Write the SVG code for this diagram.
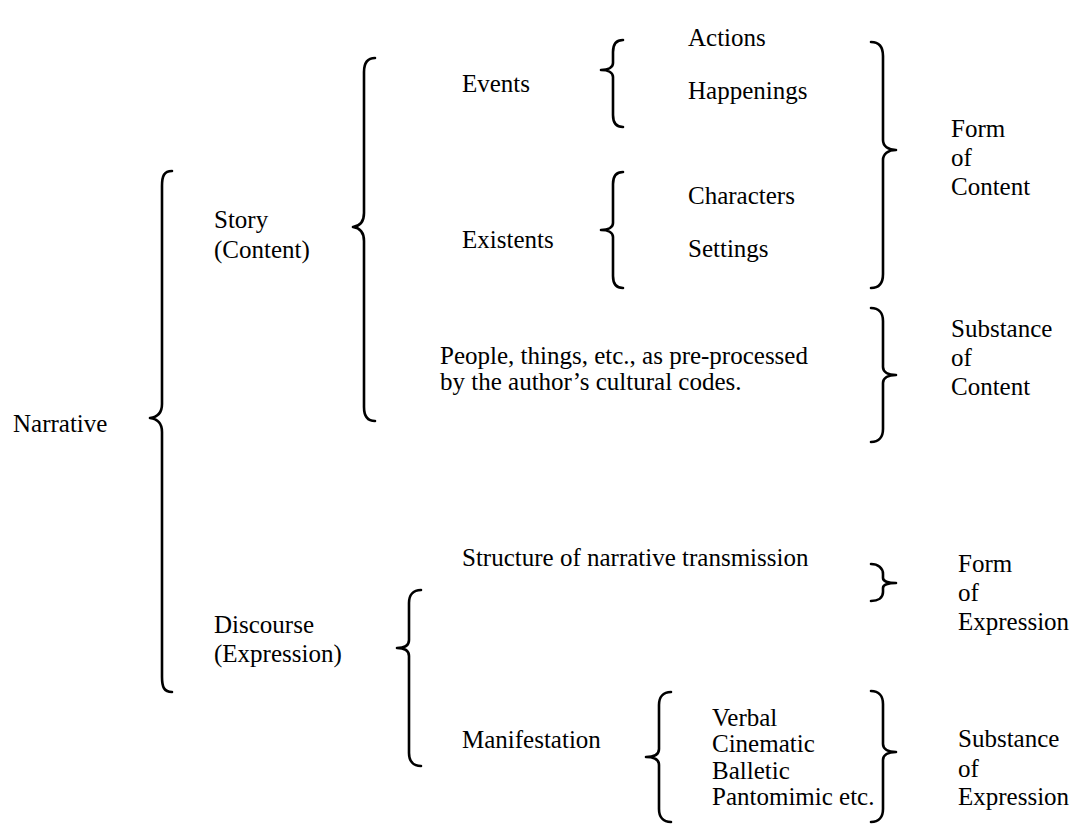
<svg xmlns="http://www.w3.org/2000/svg" width="1075" height="825" viewBox="0 0 1075 825">
<style>
text{font-family:"Liberation Serif","Times New Roman",serif;font-size:25px;fill:#000}
.br{fill:none;stroke:#000;stroke-width:2.6;stroke-linecap:round;stroke-linejoin:round}
</style>
<rect width="1075" height="825" fill="#fff"/>
<g id="connectors">
<path class="br" d="M172,171 C164,171 162,176 162,186 L162,404 C162,412 158,417 150,418 C158,419 162,424 162,432 L162,677 C162,687 164,692 172,692"/>
<path class="br" d="M375,58 C367,58 364,63 364,72 L364,213 C364,221 360,226 353,227 C360,228 364,233 364,241 L364,407 C364,416 367,421 375,421"/>
<path class="br" d="M623,40 C616,40 613,44 613,52 L613,63 C613,67 609,70 601,70 C609,70 613,73 613,77 L613,115 C613,123 616,127 623,127"/>
<path class="br" d="M623,172 C616,172 613,176 613,184 L613,223 C613,227 609,230 601,230 C609,230 613,233 613,237 L613,276 C613,284 616,288 623,288"/>
<path class="br" d="M421,590 C413,590 409,595 409,603 L409,640 C409,645 405,648 397,648 C405,648 409,651 409,656 L409,753 C409,761 413,766 421,766"/>
<path class="br" d="M671,692 C663,692 659,697 659,705 L659,749 C659,754 655,757 646,757 C655,757 659,760 659,765 L659,809 C659,817 663,822 671,822"/>
<path class="br" d="M871,42 C879,42 883,47 883,56 L883,140 C883,146 888,150 896,150 C888,150 883,154 883,160 L883,274 C883,283 879,288 871,288"/>
<path class="br" d="M871,308 C879,308 883,313 883,321 L883,367 C883,372 888,375 896,375 C888,375 883,378 883,383 L883,429 C883,437 879,442 871,442"/>
<path class="br" d="M871,564 C878,564 883,568 883,574 L883,578 C883,581 888,583 896,583 C888,583 883,585 883,588 L883,592 C883,598 878,601 871,601"/>
<path class="br" d="M871,691 C879,691 883,696 883,704 L883,744 C883,749 888,752 896,752 C888,752 883,755 883,760 L883,809 C883,817 879,822 871,822"/>
</g>
<g id="narrative"><text x="13" y="432">Narrative</text></g>
<g id="story"><text x="214" y="228">Story</text><text x="214" y="258">(Content)</text></g>
<g id="discourse"><text x="214" y="633">Discourse</text><text x="214" y="662">(Expression)</text></g>
<g id="events"><text x="462" y="92">Events</text></g>
<g id="existents"><text x="462" y="248">Existents</text></g>
<g id="actions"><text x="688" y="46">Actions</text></g>
<g id="happenings"><text x="688" y="99">Happenings</text></g>
<g id="characters"><text x="688" y="204">Characters</text></g>
<g id="settings"><text x="688" y="257">Settings</text></g>
<g id="people"><text x="440" y="364">People, things, etc., as pre-processed</text><text x="440" y="390">by the author’s cultural codes.</text></g>
<g id="form-content"><text x="951" y="137">Form</text><text x="951" y="166">of</text><text x="951" y="195">Content</text></g>
<g id="substance-content"><text x="951" y="337">Substance</text><text x="951" y="366">of</text><text x="951" y="395">Content</text></g>
<g id="structure"><text x="462" y="566">Structure of narrative transmission</text></g>
<g id="form-expression"><text x="958" y="572">Form</text><text x="958" y="601">of</text><text x="958" y="630">Expression</text></g>
<g id="manifestation"><text x="462" y="748">Manifestation</text></g>
<g id="media"><text x="712" y="726">Verbal</text><text x="712" y="752">Cinematic</text><text x="712" y="779">Balletic</text><text x="712" y="805">Pantomimic etc.</text></g>
<g id="substance-expression"><text x="958" y="747">Substance</text><text x="958" y="777">of</text><text x="958" y="805">Expression</text></g>
</svg>
